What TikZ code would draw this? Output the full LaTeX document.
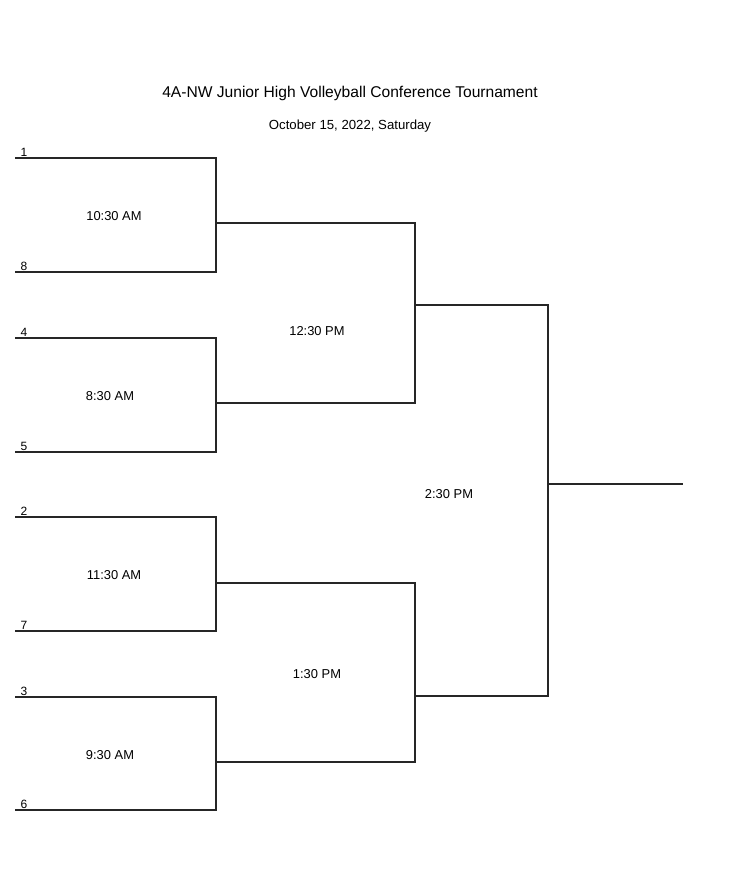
\documentclass[tikz,border=0pt]{standalone}
\usepackage{fontspec}
\setmainfont{Liberation Sans}
\begin{document}
\begin{tikzpicture}[x=1pt,y=-1pt]
	\tikzset{bracket/.style={line width=1.1pt, black!85, line cap=rect},
		seed/.style={anchor=south west, inner sep=1pt, font=\fontsize{12}{12}\selectfont},
		slot/.style={font=\fontsize{12.9}{13}\selectfont}}
	\useasboundingbox (0,0) rectangle (750,881);
	
	% Title
	\node[font=\fontsize{15.6}{16}\selectfont] (title) at (350,93) {4A-NW Junior High Volleyball Conference Tournament};
	\node[font=\fontsize{13.2}{14}\selectfont] (date) at (350,126) {October 15, 2022, Saturday};
	
	% First round
	\coordinate (s1) at (16,158);  \coordinate (s1e) at (216,158);
	\coordinate (s8) at (16,272);  \coordinate (s8e) at (216,272);
	\coordinate (s4) at (16,338);  \coordinate (s4e) at (216,338);
	\coordinate (s5) at (16,452);  \coordinate (s5e) at (216,452);
	\coordinate (s2) at (16,517);  \coordinate (s2e) at (216,517);
	\coordinate (s7) at (16,631);  \coordinate (s7e) at (216,631);
	\coordinate (s3) at (16,697);  \coordinate (s3e) at (216,697);
	\coordinate (s6) at (16,810);  \coordinate (s6e) at (216,810);
	
	\draw[bracket] (s1) -- (s1e) -- (s8e) -- (s8);
	\draw[bracket] (s4) -- (s4e) -- (s5e) -- (s5);
	\draw[bracket] (s2) -- (s2e) -- (s7e) -- (s7);
	\draw[bracket] (s3) -- (s3e) -- (s6e) -- (s6);
	
	\node[seed] (l1) at ([xshift=3.5pt]s1) {1};
	\node[seed] (l8) at ([xshift=3.5pt]s8) {8};
	\node[seed] (l4) at ([xshift=3.5pt]s4) {4};
	\node[seed] (l5) at ([xshift=3.5pt]s5) {5};
	\node[seed] (l2) at ([xshift=3.5pt]s2) {2};
	\node[seed] (l7) at ([xshift=3.5pt]s7) {7};
	\node[seed] (l3) at ([xshift=3.5pt]s3) {3};
	\node[seed] (l6) at ([xshift=3.5pt]s6) {6};
	
	\node[slot] (g1) at (114,216) {10:30 AM};
	\node[slot] (g2) at (110,396) {8:30 AM};
	\node[slot] (g3) at (114,575) {11:30 AM};
	\node[slot] (g4) at (110,755) {9:30 AM};
	
	% Second round
	\coordinate (q1) at (216,223);  \coordinate (q1e) at (415,223);
	\coordinate (q2) at (216,403);  \coordinate (q2e) at (415,403);
	\coordinate (q3) at (216,583);  \coordinate (q3e) at (415,583);
	\coordinate (q4) at (216,762);  \coordinate (q4e) at (415,762);
	
	\draw[bracket] (q1) -- (q1e) -- (q2e) -- (q2);
	\draw[bracket] (q3) -- (q3e) -- (q4e) -- (q4);
	
	\node[slot] (g5) at (317,331) {12:30 PM};
	\node[slot] (g6) at (317,674) {1:30 PM};
	
	% Final
	\coordinate (f1) at (415,305);  \coordinate (f1e) at (548,305);
	\coordinate (f2) at (415,696);  \coordinate (f2e) at (548,696);
	\coordinate (w) at (548,484);   \coordinate (we) at (682,484);
	
	\draw[bracket] (f1) -- (f1e) -- (f2e) -- (f2);
	\draw[bracket] (w) -- (we);
	
	\node[slot] (g7) at (449,494) {2:30 PM};
\end{tikzpicture}
\end{document}
